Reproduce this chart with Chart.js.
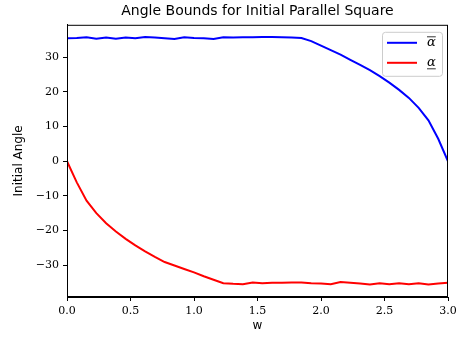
<!DOCTYPE html>
<html>
<head>
<meta charset="utf-8">
<script src="https://cdn.jsdelivr.net/npm/chart.js@4"></script>
<style>
    body { margin: 0; background: #fff; }
    #wrap { width: 457px; height: 341px; }
</style>
</head>
<body>
<div id="wrap"><canvas id="chart" width="457" height="341"></canvas></div>
<script>
// w values (x axis)
const wValues = [0, 0.077, 0.154, 0.231, 0.308, 0.385, 0.462, 0.538, 0.615, 0.692,
    0.769, 0.846, 0.923, 1.0, 1.077, 1.154, 1.231, 1.308, 1.385, 1.462,
    1.538, 1.615, 1.692, 1.769, 1.846, 1.923, 2.0, 2.077, 2.154, 2.231,
    2.308, 2.385, 2.462, 2.538, 2.615, 2.692, 2.769, 2.846, 2.923, 3.0];

// upper bound (alpha bar)
const upperAlpha = [35.5, 35.6, 35.8, 35.4, 35.7, 35.4, 35.7, 35.5, 35.9, 35.7,
    35.5, 35.3, 35.8, 35.6, 35.5, 35.3, 35.8, 35.7, 35.8, 35.8,
    35.9, 35.9, 35.8, 35.7, 35.6, 34.7, 33.4, 32.1, 30.8, 29.3,
    27.8, 26.3, 24.6, 22.7, 20.6, 18.3, 15.4, 11.8, 6.5, 0.0];

// lower bound (alpha underline)
const lowerAlpha = [0, -6.1, -11.4, -15.0, -17.9, -20.3, -22.4, -24.3, -26.0, -27.6,
    -29.1, -30.1, -31.1, -32.1, -33.2, -34.2, -35.2, -35.4, -35.5, -35.0,
    -35.2, -35.1, -35.1, -35.0, -35.0, -35.2, -35.3, -35.5, -34.9, -35.1,
    -35.3, -35.6, -35.2, -35.5, -35.2, -35.5, -35.2, -35.6, -35.3, -35.1];

const xTicks = [0, 0.5, 1.0, 1.5, 2.0, 2.5, 3.0];
const yTicks = [-30, -20, -10, 0, 10, 20, 30];

const serif = 'DejaVu Serif';
const sans = 'DejaVu Sans';

function points(ys) {
    return wValues.map((w, i) => ({x: w, y: ys[i]}));
}

// box around the plot + legend in the top right corner
const framePlugin = {
    id: 'frame',
    afterLayout(chart) {
        // center the title over the plot area, like matplotlib does
        if (chart.titleBlock) {
            chart.titleBlock.left = chart.chartArea.left;
            chart.titleBlock.right = chart.chartArea.right;
        }
    },
    afterDraw(chart) {
        const ctx = chart.ctx;
        const a = chart.chartArea;
        ctx.save();
        ctx.strokeStyle = '#000';
        ctx.lineWidth = 1;
        ctx.strokeRect(a.left + 0.5, a.top + 0.5, a.right - a.left - 1, a.bottom - a.top - 1);

        // legend
        const bx = a.right - 66, by = a.top + 7, bw = 60, bh = 44;
        ctx.fillStyle = 'rgba(255,255,255,0.8)';
        ctx.strokeStyle = '#cccccc';
        ctx.beginPath();
        ctx.roundRect(bx + 0.5, by + 0.5, bw, bh, 3);
        ctx.fill();
        ctx.stroke();

        const items = chart.data.datasets;
        items.forEach((ds, i) => {
            const ly = by + 11 + i * 20;
            ctx.strokeStyle = ds.borderColor;
            ctx.lineWidth = 2;
            ctx.beginPath();
            ctx.moveTo(bx + 5, ly);
            ctx.lineTo(bx + 35, ly);
            ctx.stroke();
            ctx.fillStyle = '#000';
            ctx.font = 'italic 13px ' + serif;
            ctx.textBaseline = 'middle';
            ctx.fillText(ds.label, bx + 45, ly);
            const tw = ctx.measureText(ds.label).width;
            ctx.lineWidth = 0.8;
            ctx.strokeStyle = '#000';
            ctx.beginPath();
            const barY = i === 0 ? ly - 6 : ly + 6;
            ctx.moveTo(bx + 45, barY);
            ctx.lineTo(bx + 45 + tw, barY);
            ctx.stroke();
        });
        ctx.restore();
    }
};

let ctx = document.getElementById('chart').getContext('2d');
let chart = new Chart(ctx, {
    type: 'line',
    data: {
        datasets: [
            {
                label: 'α',
                borderColor: 'rgb(0,0,255)',
                backgroundColor: 'transparent',
                data: points(upperAlpha),
                borderWidth: 2,
                pointRadius: 0,
                tension: 0
            },
            {
                label: 'α',
                borderColor: 'rgb(255,0,0)',
                backgroundColor: 'transparent',
                data: points(lowerAlpha),
                borderWidth: 2,
                pointRadius: 0,
                tension: 0
            }
        ]
    },
    options: {
        responsive: false,
        animation: false,
        layout: {padding: {left: 0, right: 0, top: 0, bottom: 0}},
        plugins: {
            legend: {display: false},
            tooltip: {enabled: false},
            title: {
                display: true,
                text: 'Angle Bounds for Initial Parallel Square',
                color: '#000',
                font: {family: sans, size: 14, weight: 'normal'},
                padding: {top: 3, bottom: 5}
            }
        },
        scales: {
            x: {
                type: 'linear',
                min: 0,
                max: 3,
                afterBuildTicks: s => { s.ticks = xTicks.map(v => ({value: v})); },
                afterFit: s => {
                    s.height = 44;
                    s.paddingLeft = 0;
                    s.paddingRight = 9;
                },
                ticks: {
                    color: '#000',
                    font: {family: serif, size: 11},
                    padding: 4,
                    maxRotation: 0,
                    callback: v => Number(v).toFixed(1)
                },
                grid: {drawOnChartArea: false, drawTicks: true, tickLength: 4, color: '#000'},
                border: {display: true, color: '#000'},
                title: {
                    display: true,
                    text: 'w',
                    color: '#000',
                    font: {family: sans, size: 12},
                    padding: {top: 0, bottom: 8}
                }
            },
            y: {
                min: -39.2,
                max: 39.4,
                afterBuildTicks: s => { s.ticks = yTicks.map(v => ({value: v})); },
                afterFit: s => { s.width = 67; },
                ticks: {
                    color: '#000',
                    font: {family: serif, size: 11},
                    padding: 4,
                    callback: v => v < 0 ? '\u2212' + Math.abs(v) : String(v)
                },
                grid: {drawOnChartArea: false, drawTicks: true, tickLength: 4, color: '#000'},
                border: {display: true, color: '#000'},
                title: {
                    display: true,
                    text: 'Initial Angle',
                    color: '#000',
                    font: {family: sans, size: 12},
                    padding: {top: 12, bottom: 0}
                }
            }
        }
    },
    plugins: [framePlugin]
});
</script>
</body>
</html>
